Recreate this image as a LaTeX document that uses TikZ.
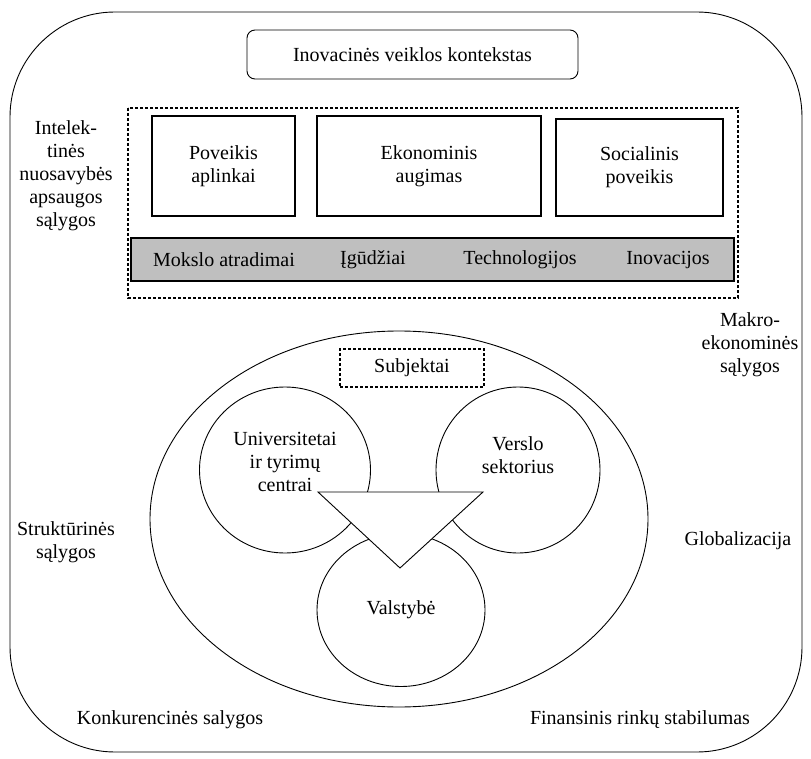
\documentclass[tikz,border=0pt]{standalone}
\usepackage{fontspec}
\setmainfont{Liberation Serif}
\usetikzlibrary{shapes.geometric}

\tikzset{
  txt/.style={font=\rmfamily\fontsize{20}{23}\selectfont, align=center, inner sep=0pt},
  plainbox/.style={draw, line width=1.3pt, txt},
  dashbox/.style={draw, dash pattern=on 3pt off 2pt, line width=1.1pt},
  circ/.style={draw, ellipse, line width=0.9pt, txt}
}

\begin{document}
\begin{tikzpicture}[x=1pt, y=-1pt, line width=0.9pt]
            \useasboundingbox (0,0) rectangle (811,759);

            % draw outer frame
            \draw[rounded corners=105pt] (10,12) rectangle (802,752);

            % draw title box
            \node[draw, rounded corners=8pt, txt, minimum width=331pt, minimum height=49pt] (title) at (412.5,54.5) {Inovacinės veiklos kontekstas};

            % draw dashed results box
            \draw[dashbox] (128,108) rectangle (738,298);
            \node[plainbox, minimum width=143pt, minimum height=100pt] (env) at (223.5,166) {Poveikis\\aplinkai};
            \node[plainbox, minimum width=224pt, minimum height=100pt] (econ) at (429,166) {Ekonominis\\augimas};
            \node[plainbox, minimum width=167pt, minimum height=97pt] (soc) at (639.5,167.5) {Socialinis\\poveikis};

            % draw grey bar
            \node[draw, fill=black!25, line width=1.3pt, minimum width=603pt, minimum height=43pt] (bar) at (432.5,259.5) {};
            \node[txt] (mokslo) at (224,260) {Mokslo atradimai};
            \node[txt] (igud) at (373,260) {Įgūdžiai};
            \node[txt] (tech) at (520,260) {Technologijos};
            \node[txt] (inov) at (668,260) {Inovacijos};

            % draw side labels
            \node[txt] (intel) at (66,176) {Intelek-\\tinės\\nuosavybės\\apsaugos\\sąlygos};
            \node[txt] (makro) at (750,345) {Makro-\\ekonominės\\sąlygos};
            \node[txt] (strukt) at (66,542) {Struktūrinės\\sąlygos};
            \node[txt] (glob) at (738,541) {Globalizacija};
            \node[txt] (konk) at (170,720) {Konkurencinės salygos};
            \node[txt] (fin) at (640,720) {Finansinis rinkų stabilumas};

            % draw subjects ellipse
            \draw (399,519) ellipse (249pt and 188pt);
            \node[dashbox, txt, minimum width=144pt, minimum height=38pt] (subj) at (412,368) {Subjektai};

            % draw actors
            \node[circ, minimum width=171pt, minimum height=166pt] (univ) at (285,470) {};
            \node[circ, minimum width=164pt, minimum height=166pt] (verslo) at (518,470) {};
            \node[txt] (verslotxt) at (518,455) {Verslo\\sektorius};
            \node[circ, minimum width=168pt, minimum height=153pt] (valst) at (401,610) {Valstybė};

            % draw triangle
            \filldraw[fill=white] (318,492) -- (483,492) -- (400,568) -- cycle;
            \node[txt] (univtxt) at (285,462) {Universitetai\\ir tyrimų\\centrai};
        \end{tikzpicture}
\end{document}
